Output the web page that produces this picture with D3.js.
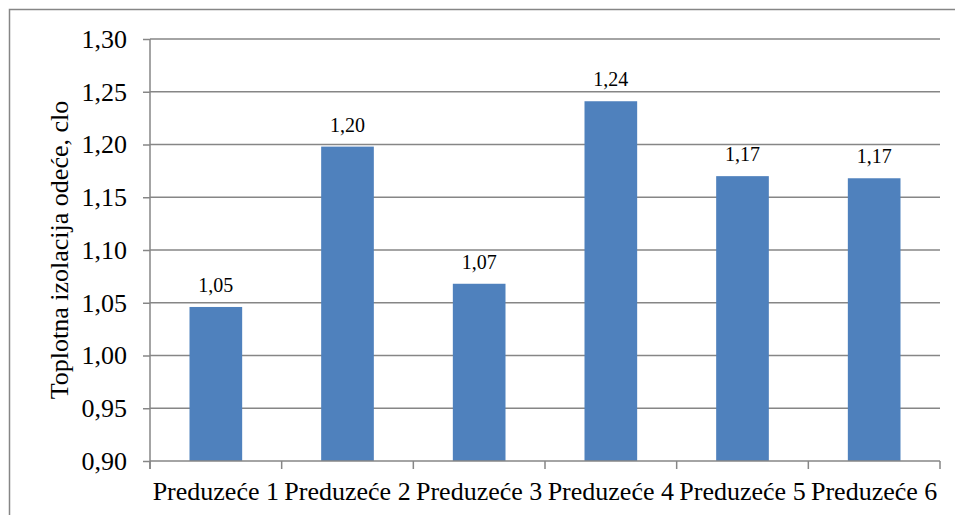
<!DOCTYPE html>
<html>
<head>
<meta charset="utf-8">
<script src="https://cdn.jsdelivr.net/npm/d3@7"></script>
</head>
<body style="margin:0">
<script>
'use strict';

let companies = ['Preduzeće 1', 'Preduzeće 2', 'Preduzeće 3', 'Preduzeće 4', 'Preduzeće 5', 'Preduzeće 6'];
let insulation = [1.046, 1.198, 1.068, 1.241, 1.170, 1.168];
let valueLabels = ['1,05', '1,20', '1,07', '1,24', '1,17', '1,17'];
let yTicks = [0.90, 0.95, 1.00, 1.05, 1.10, 1.15, 1.20, 1.25, 1.30];

let width = 955;
let height = 515;
let margin = { top: 39, right: 15, bottom: 54, left: 150 };
let plotW = width - margin.left - margin.right;
let plotH = height - margin.top - margin.bottom;
let gridColor = '#868686';
let serif = "'Liberation Serif', 'Times New Roman', serif";

let svg = d3.select('body')
    .append('svg')
    .attr('width', width)
    .attr('height', height)
    .style('background', '#fff');

// outer chart border
svg.append('rect')
    .attr('x', 9.5)
    .attr('y', 9.5)
    .attr('width', 980)
    .attr('height', 540)
    .attr('fill', '#fff')
    .attr('stroke', gridColor)
    .attr('stroke-width', 1.5);

let g = svg.append('g')
    .attr('transform', 'translate(' + margin.left + ',' + margin.top + ')');

let xScale = d3.scaleBand()
    .domain(companies)
    .range([0, plotW])
    .paddingInner(0.6)
    .paddingOuter(0.3);

let yScale = d3.scaleLinear()
    .domain([0.90, 1.30])
    .range([plotH, 0]);

let fmt = (d) => d.toFixed(2).replace('.', ',');

// gridlines
g.selectAll('.grid')
    .data(yTicks.slice(1))
    .enter()
    .append('line')
    .attr('x1', 0)
    .attr('x2', plotW)
    .attr('y1', (d) => yScale(d))
    .attr('y2', (d) => yScale(d))
    .attr('stroke', gridColor)
    .attr('stroke-width', 1.5);

// y axis
let yAxis = d3.axisLeft(yScale)
    .tickValues(yTicks)
    .tickFormat(fmt)
    .tickSize(7)
    .tickPadding(16);
let yG = g.append('g').call(yAxis)
    .attr('font-family', null)
    .attr('font-size', null);
yG.select('.domain').attr('stroke', gridColor).attr('stroke-width', 1.5)
    .attr('d', 'M0,0V' + (plotH + 8));
yG.selectAll('.tick line').attr('stroke', gridColor).attr('stroke-width', 1.5);
yG.selectAll('.tick text')
    .attr('font-family', 'Liberation Serif')
    .style('font-family', serif)
    .style('font-size', '26px')
    .attr('fill', '#000');

// bars
g.selectAll('rect.bar')
    .data(insulation)
    .enter()
    .append('rect')
    .attr('class', 'bar')
    .attr('x', (d, i) => xScale(companies[i]))
    .attr('y', (d) => yScale(d))
    .attr('width', xScale.bandwidth())
    .attr('height', (d) => plotH - yScale(d))
    .attr('fill', '#4F81BD');

// x axis
let step = plotW / companies.length;
let xG = g.append('g').attr('transform', 'translate(0,' + plotH + ')');
xG.append('line')
    .attr('x1', 0)
    .attr('x2', plotW)
    .attr('stroke', gridColor)
    .attr('stroke-width', 1.5);
xG.selectAll('.xtick')
    .data(d3.range(companies.length + 1))
    .enter()
    .append('line')
    .attr('x1', (d) => d * step)
    .attr('x2', (d) => d * step)
    .attr('y1', 0)
    .attr('y2', 8)
    .attr('stroke', gridColor)
    .attr('stroke-width', 1.5);
xG.selectAll('.xlabel')
    .data(companies)
    .enter()
    .append('text')
    .attr('x', (d) => xScale(d) + xScale.bandwidth() / 2)
    .attr('y', 39)
    .attr('text-anchor', 'middle')
    .style('font-family', serif)
    .style('font-size', '26px')
    .text((d) => d);

// value labels
g.selectAll('.vlabel')
    .data(insulation)
    .enter()
    .append('text')
    .attr('x', (d, i) => xScale(companies[i]) + xScale.bandwidth() / 2)
    .attr('y', (d) => yScale(d) - 15)
    .attr('text-anchor', 'middle')
    .style('font-family', serif)
    .style('font-size', '20px')
    .text((d, i) => valueLabels[i]);

// y title
svg.append('text')
    .attr('transform', 'translate(68,' + (margin.top + plotH / 2) + ')rotate(-90)')
    .attr('text-anchor', 'middle')
    .style('font-family', serif)
    .style('font-size', '26px')
    .text('Toplotna izolacija odeće, clo');
</script>
</body>
</html>
